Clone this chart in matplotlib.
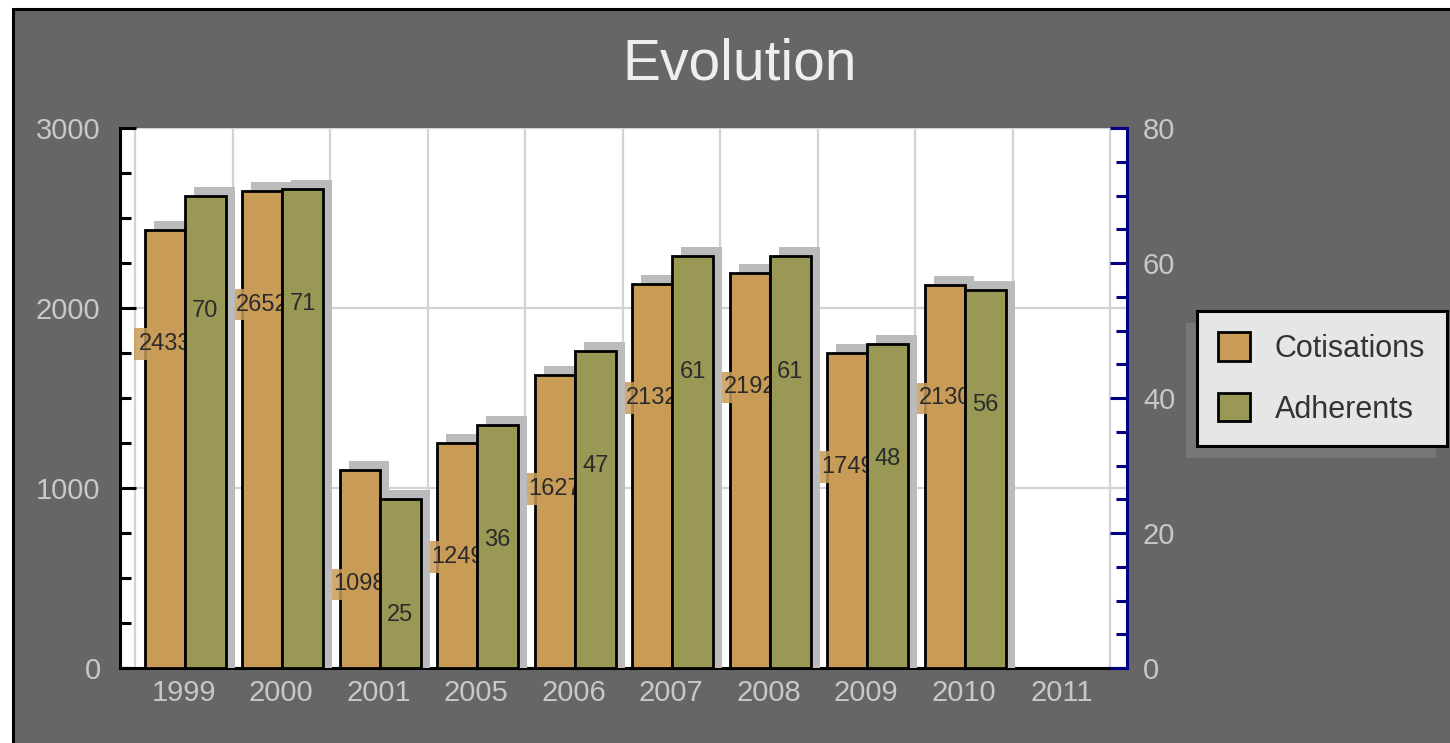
import matplotlib

matplotlib.use("Agg")

import matplotlib.pyplot as plt
import numpy as np
from matplotlib.patches import Patch, Rectangle

plt.rcParams["font.family"] = ["Liberation Sans", "DejaVu Sans"]

years = ["1999", "2000", "2001", "2005", "2006", "2007", "2008", "2009", "2010", "2011"]
cotisations = [2433, 2652, 1098, 1249, 1627, 2132, 2192, 1749, 2130]
adherents = [70, 71, 25, 36, 47, 61, 61, 48, 56]

ORANGE = "#C89B57"
OLIVE = "#999955"
SHADOW = "#BBBBBB"
PANEL = "#666666"
NAVY = "#000080"
GRID = "#D3D3D3"
TICKTXT = "#C8C8C8"
W, H = 1450, 743

fig = plt.figure(figsize=(W / 100, H / 100), dpi=100, facecolor="white")
# dark panel with its black frame (top / left visible)
fig.add_artist(Rectangle((13.5 / W, -0.1), 1.0, (H - 8.5) / H + 0.1,
                         transform=fig.transFigure, facecolor=PANEL,
                         edgecolor="black", linewidth=2.2, zorder=-5))

ax = fig.add_axes([120 / W, 75 / H, 1007 / W, 540 / H])
ax.set_facecolor("white")
ax2 = ax.twinx()

x = np.arange(len(years))
step = 97.5  # px per category
ax.set_xlim(-0.5 - 15 / step, len(years) - 0.5 + 17 / step)
ax.set_ylim(0, 3000)
ax2.set_ylim(0, 80)

# shadow offsets (9 px right / up)
dx = 9 / step
dy1 = 9 / (540 / 3000)
dy2 = 9 / (540 / 80)

n1 = len(cotisations)
left1 = x[:n1] - 0.5 + 0.10
ax.bar(left1 + dx, np.array(cotisations) + dy1, width=0.41, align="edge",
       color=SHADOW, zorder=2)
ax.bar(left1, cotisations, width=0.41, align="edge", color=ORANGE,
       edgecolor="black", linewidth=2.0, zorder=3)
for xi, v in zip(left1 + 0.205, cotisations):
    ax.annotate(f"{v}", xy=(xi, v), xytext=(0, -82), textcoords="offset points",
                ha="center", va="center", fontsize=17, color="#2b2b2b", zorder=4,
                bbox=dict(boxstyle="square,pad=0.2", fc=ORANGE, ec="none", alpha=0.85))

n2 = len(adherents)
left2 = x[:n2] - 0.5 + 0.51
ax2.bar(left2 + dx, np.array(adherents) + dy2, width=0.42, align="edge",
        color=SHADOW, zorder=2)
ax2.bar(left2, adherents, width=0.42, align="edge", color=OLIVE,
        edgecolor="black", linewidth=2.0, zorder=3)
for xi, v in zip(left2 + 0.21, adherents):
    ax2.annotate(f"{v}", xy=(xi, v), xytext=(0, -83), textcoords="offset points",
                 ha="center", va="center", fontsize=17, color="#2b2b2b", zorder=4)

# grid: vertical at category boundaries, horizontal at major y ticks
ax.set_xticks(x)
ax.set_xticklabels(years)
ax.set_xticks(np.arange(len(years) + 1) - 0.5, minor=True)
ax.set_yticks([0, 1000, 2000, 3000])
ax.set_yticks(np.arange(0, 3001, 250), minor=True)
ax.grid(which="minor", axis="x", color=GRID, linewidth=1.6, zorder=0)
ax.grid(which="major", axis="y", color=GRID, linewidth=1.6, zorder=0)
ax.set_axisbelow(True)

ax.tick_params(axis="x", which="both", length=0, labelsize=21, labelcolor=TICKTXT, pad=8)
ax.tick_params(axis="y", which="major", direction="in", length=11.5, width=2.2,
               color="black", labelsize=21, labelcolor=TICKTXT, pad=14)
ax.tick_params(axis="y", which="minor", direction="in", length=8, width=2.2, color="black")

ax2.set_yticks([0, 20, 40, 60, 80])
ax2.set_yticks(np.arange(0, 81, 5), minor=True)
ax2.tick_params(axis="y", which="major", direction="in", length=12, width=2.2,
                color=NAVY, labelsize=21, labelcolor=TICKTXT, pad=11.5)
ax2.tick_params(axis="y", which="minor", direction="in", length=8, width=2.2, color=NAVY)

for s in ["top", "right"]:
    ax.spines[s].set_visible(False)
for s in ["left", "bottom"]:
    ax.spines[s].set_color("black")
    ax.spines[s].set_linewidth(2.2)
for s in ["top", "left", "bottom"]:
    ax2.spines[s].set_visible(False)
ax2.spines["right"].set_color(NAVY)
ax2.spines["right"].set_linewidth(2.2)

fig.text(740 / W, 1 - 64 / H, "Evolution", ha="center", va="center",
         fontsize=41, color="#EEEEEE")

handles = [Patch(facecolor=ORANGE, edgecolor="black", linewidth=2),
           Patch(facecolor=OLIVE, edgecolor="black", linewidth=2)]
leg = fig.legend(handles, ["Cotisations", "Adherents"], loc="upper left",
                 bbox_to_anchor=(1197 / W, 1 - 311 / H), borderaxespad=0,
                 frameon=True, fancybox=False, edgecolor="black", facecolor="#E6E6E6",
                 framealpha=1, fontsize=22, labelcolor="#333333",
                 handlelength=1.05, handleheight=1.05, handletextpad=0.8,
                 borderpad=0.7, labelspacing=0.95)
leg.get_frame().set_linewidth(2.2)
leg.set_zorder(6)

fig.canvas.draw()
bb = leg.get_window_extent()
fig.add_artist(Rectangle(((bb.x0 - 11) / W, (bb.y0 - 12) / H), bb.width / W, bb.height / H,
                         transform=fig.transFigure, facecolor="#787878",
                         edgecolor="none", zorder=5))

fig.savefig("out.png", dpi=100, facecolor=fig.get_facecolor())
